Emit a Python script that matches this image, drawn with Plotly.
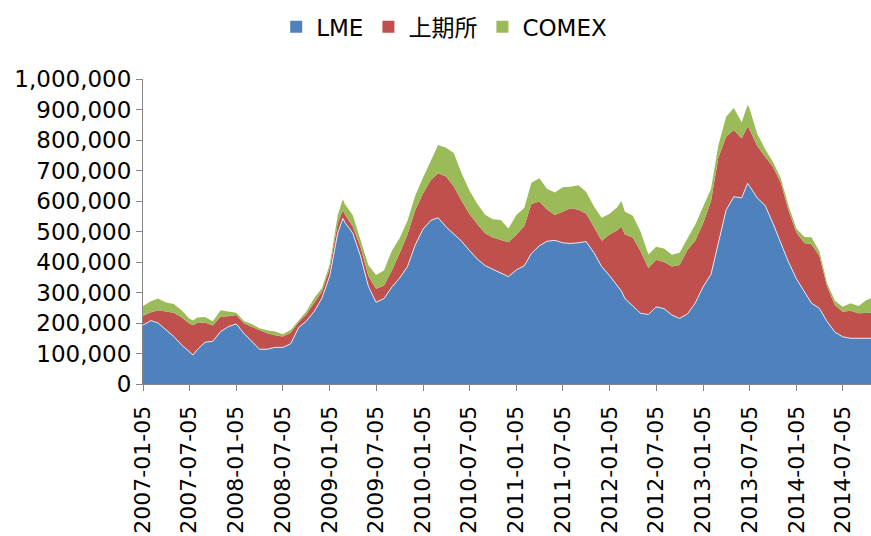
import plotly.graph_objects as go

dates = [
    "2007-01-05", "2007-02-05", "2007-03-05", "2007-04-05", "2007-05-05", "2007-06-05",
    "2007-07-05", "2007-07-20", "2007-08-05", "2007-09-05", "2007-10-05", "2007-11-05", "2007-12-05",
    "2008-01-05", "2008-02-05", "2008-03-05", "2008-04-05", "2008-05-05", "2008-06-05",
    "2008-07-05", "2008-08-05", "2008-09-05", "2008-10-05", "2008-11-05", "2008-12-05",
    "2009-01-05", "2009-02-05", "2009-02-25", "2009-03-05", "2009-04-05", "2009-05-05", "2009-06-05",
    "2009-07-05", "2009-08-05", "2009-09-05", "2009-10-05", "2009-11-05", "2009-12-05",
    "2010-01-05", "2010-02-05", "2010-03-05", "2010-04-05", "2010-05-05", "2010-06-05",
    "2010-07-05", "2010-08-05", "2010-09-05", "2010-10-05", "2010-11-05", "2010-12-05",
    "2011-01-05", "2011-02-05", "2011-03-05", "2011-04-05", "2011-05-05", "2011-06-05",
    "2011-07-05", "2011-08-05", "2011-09-05", "2011-10-05", "2011-11-05", "2011-12-05",
    "2012-01-05", "2012-02-05", "2012-02-20", "2012-03-05", "2012-04-05", "2012-05-05", "2012-06-05",
    "2012-07-05", "2012-08-05", "2012-09-05", "2012-10-05", "2012-11-05", "2012-12-05",
    "2013-01-05", "2013-02-05", "2013-03-05", "2013-04-05", "2013-05-05", "2013-06-05",
    "2013-06-28", "2013-07-05", "2013-08-05", "2013-09-05", "2013-10-05", "2013-11-05", "2013-12-05",
    "2014-01-05", "2014-02-05", "2014-03-05", "2014-04-05", "2014-05-05", "2014-06-05",
    "2014-07-05", "2014-08-05", "2014-09-05", "2014-10-05", "2014-10-24",
]

# values in thousands of tonnes (x1000 below)
lme = [
    193, 208, 200, 178, 156, 128,
    105, 95, 112, 137, 140, 172, 188,
    197, 165, 140, 114, 114, 120,
    120, 132, 185, 206, 238, 281,
    355, 495, 543, 530, 494, 420, 320,
    268, 280, 318, 347, 385, 455,
    508, 537, 545, 515, 492, 468,
    438, 410, 388, 376, 366, 352,
    374, 388, 428, 453, 468, 471,
    463, 461, 463, 467, 430, 385,
    355, 322, 305, 280, 257, 232, 228,
    253, 247, 226, 215, 230, 265,
    319, 360, 455, 570, 614, 610,
    658, 650, 610, 585, 527, 465, 400,
    345, 302, 265, 248, 205, 170,
    155, 150, 150, 150, 150,
]
shfe = [
    31, 27, 42, 60, 78, 91,
    93, 98, 88, 65, 52, 49, 34,
    29, 33, 48, 63, 52, 40,
    36, 36, 18, 22, 30, 22,
    25, 32, 27, 26, 22, 30, 35,
    44, 43, 54, 81, 105, 115,
    117, 133, 146, 165, 156, 132,
    120, 115, 106, 104, 107, 113,
    115, 130, 162, 145, 104, 83,
    102, 115, 108, 92, 85, 85,
    135, 183, 211, 210, 223, 203, 152,
    154, 153, 159, 175, 210, 205,
    208, 240, 285, 241, 219, 195,
    186, 185, 170, 160, 185, 195, 170,
    152, 160, 193, 172, 115, 88,
    82, 90, 82, 84, 84,
]
comex = [
    32, 36, 38, 29, 28, 23,
    17, 15, 18, 18, 14, 21, 16,
    8, 8, 9, 6, 10, 12,
    7, 9, 7, 10, 14, 11,
    13, 26, 36, 34, 37, 25, 35,
    45, 49, 65, 50, 45, 47,
    52, 65, 93, 95, 109, 90,
    77, 66, 61, 60, 65, 45,
    65, 59, 70, 77, 68, 74,
    80, 71, 81, 71, 67, 75,
    68, 75, 84, 75, 72, 65, 45,
    43, 44, 39, 40, 38, 52,
    54, 40, 40, 65, 72, 53,
    71, 70, 40, 25, 17, 15, 15,
    13, 20, 23, 15, 10, 15,
    16, 25, 24, 41, 47,
]

tick_dates = [
    "2007-01-05", "2007-07-05", "2008-01-05", "2008-07-05", "2009-01-05", "2009-07-05",
    "2010-01-05", "2010-07-05", "2011-01-05", "2011-07-05", "2012-01-05", "2012-07-05",
    "2013-01-05", "2013-07-05", "2014-01-05", "2014-07-05",
]
y_ticks = [0, 100000, 200000, 300000, 400000, 500000, 600000, 700000, 800000, 900000, 1000000]

names = ["LME", "上期所", "COMEX"]
colors = ["#4F81BD", "#C0504D", "#9BBB59"]
series = [lme, shfe, comex]

FONT = "DejaVu Sans, Noto Sans CJK SC, sans-serif"

fig = go.Figure()
for i, (name, col, vals) in enumerate(zip(names, colors, series)):
    fig.add_trace(go.Scatter(
        x=dates, y=[v * 1000 for v in vals], name=name,
        mode="lines", stackgroup="one",
        fillcolor=col, showlegend=False,
        line=dict(width=1 if i == 0 else 0, color="#DCE6F2" if i == 0 else col),
    ))
# legend keys: small squares like the original
for name, col in zip(names, colors):
    fig.add_trace(go.Scatter(
        x=[None], y=[None], name=name, mode="markers",
        marker=dict(symbol="square", size=12, color=col),
    ))

fig.update_layout(
    width=871, height=536,
    margin=dict(l=143, r=0, t=79, b=152),
    paper_bgcolor="white", plot_bgcolor="white",
    font=dict(family=FONT, size=23, color="#000000"),
    showlegend=True,
    legend=dict(
        orientation="h", xref="container", yref="container",
        x=0.51, xanchor="center", y=0.99, yanchor="top",
        font=dict(size=23), traceorder="normal", itemwidth=30,
    ),
    hovermode=False,
)
fig.update_xaxes(
    type="date", range=["2007-01-05", "2014-10-24"],
    tickmode="array", tickvals=tick_dates, ticktext=tick_dates,
    tickangle=-90, ticks="outside", ticklen=6, tickcolor="#868686",
    showline=True, linecolor="#868686", linewidth=1,
    showgrid=False, zeroline=False, automargin=False,
    ticklabelstandoff=6,
    tickfont=dict(size=22),
)
fig.update_yaxes(
    range=[0, 1000000], tickmode="array", tickvals=y_ticks,
    ticktext=[f"{v:,}" for v in y_ticks],
    ticks="outside", ticklen=6, tickcolor="#868686",
    showline=True, linecolor="#868686", linewidth=1,
    showgrid=False, zeroline=False, automargin=False,
    tickfont=dict(size=23),
)

fig.write_html(
    "out.html",
    config={"displayModeBar": False},
    post_script="document.body.style.margin='0';document.body.style.overflow='hidden';",
)
